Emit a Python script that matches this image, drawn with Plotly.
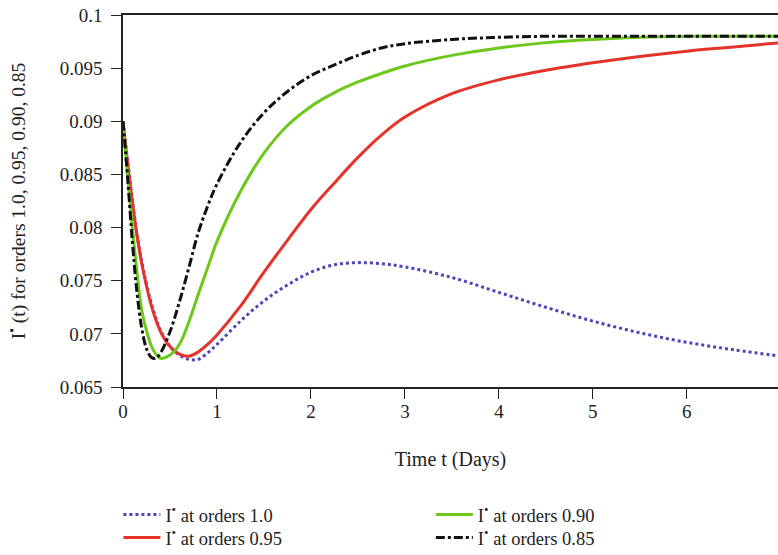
import plotly.graph_objects as go

t = [0, 0.05, 0.1, 0.15, 0.2, 0.25, 0.3, 0.35, 0.4, 0.5, 0.6, 0.7, 0.8, 0.9, 1.0,
     1.25, 1.5, 1.75, 2.0, 2.25, 2.5, 2.75, 3.0, 3.5, 4.0, 4.5, 5.0, 5.5, 6.0, 6.5, 7.0]

i_100 = [0.0900, 0.0862, 0.0826, 0.0793, 0.0768, 0.0747, 0.0729, 0.0715, 0.0703, 0.0688,
         0.0680, 0.0676, 0.0676, 0.0682, 0.0690, 0.0712, 0.0731, 0.0746, 0.0758, 0.0765,
         0.0767, 0.0766, 0.0763, 0.0753, 0.0739, 0.0725, 0.0712, 0.0701, 0.0692, 0.0685,
         0.0679]
i_095 = [0.0900, 0.0860, 0.0824, 0.0792, 0.0766, 0.0745, 0.0727, 0.0713, 0.0702, 0.0688,
         0.0681, 0.0679, 0.0683, 0.0690, 0.0699, 0.0726, 0.0758, 0.0788, 0.0817, 0.0842,
         0.0866, 0.0887, 0.0904, 0.0926, 0.0939, 0.0948, 0.0955, 0.0961, 0.0966, 0.0970,
         0.0974]
i_090 = [0.0900, 0.0848, 0.0800, 0.0757, 0.0722, 0.0703, 0.0689, 0.0681, 0.0677, 0.0680,
         0.0690, 0.0711, 0.0737, 0.0762, 0.0787, 0.0834, 0.0870, 0.0896, 0.0914, 0.0927,
         0.0937, 0.0945, 0.0952, 0.0962, 0.0969, 0.0974, 0.0977, 0.0979, 0.0980, 0.0980,
         0.0980]
i_085 = [0.0900, 0.0846, 0.0786, 0.0738, 0.0705, 0.0686, 0.0678, 0.0677, 0.0682, 0.0702,
         0.0730, 0.0762, 0.0795, 0.0820, 0.0841, 0.0880, 0.0908, 0.0928, 0.0943, 0.0953,
         0.0962, 0.0969, 0.0973, 0.0977, 0.0979, 0.0980, 0.0980, 0.0980, 0.0980, 0.0980,
         0.0980]

x_ticks = [0, 1, 2, 3, 4, 5, 6]
y_ticks = [0.065, 0.07, 0.075, 0.08, 0.085, 0.09, 0.095, 0.1]
y_labels = ["0.065", "0.07", "0.075", "0.08", "0.085", "0.09", "0.095", "0.1"]

FONT = "Liberation Serif"
TXT = "#222222"

fig = go.Figure()
fig.add_trace(go.Scatter(x=t, y=i_100, mode="lines", name="I<sup>•</sup> at orders 1.0",
                         line=dict(color="#4a46b8", width=3, dash="dot", shape="spline"),
                         legend="legend", showlegend=True))
fig.add_trace(go.Scatter(x=t, y=i_095, mode="lines", name="I<sup>•</sup> at orders 0.95",
                         line=dict(color="#e5332a", width=3, shape="spline"),
                         legend="legend2", showlegend=True))
fig.add_trace(go.Scatter(x=t, y=i_090, mode="lines", name="I<sup>•</sup> at orders 0.90",
                         line=dict(color="#6cc81a", width=3, shape="spline"),
                         legend="legend3", showlegend=True))
fig.add_trace(go.Scatter(x=t, y=i_085, mode="lines", name="I<sup>•</sup> at orders 0.85",
                         line=dict(color="#111111", width=3, dash="dashdot", shape="spline"),
                         legend="legend4", showlegend=True))


def leg(x, y):
    return dict(x=x, y=y, xanchor="left", yanchor="top", yref="container",
                orientation="v", font=dict(family=FONT, size=18.5, color=TXT),
                itemwidth=37, bgcolor="rgba(0,0,0,0)")


fig.update_layout(
    width=778, height=555,
    showlegend=True,
    margin=dict(l=123, r=0, t=15, b=168),
    paper_bgcolor="white", plot_bgcolor="white",
    font=dict(family=FONT, size=19, color=TXT),
    legend=leg(-0.007, 0.1063),
    legend2=leg(-0.007, 0.0649),
    legend3=leg(0.470, 0.1063),
    legend4=leg(0.470, 0.0649),
    xaxis=dict(range=[0, 6.97], tickvals=x_ticks, ticks="outside", ticklen=10,
               tickwidth=1.2, tickcolor="#222", showline=True, linecolor="#222",
               linewidth=1.5, mirror=True, showgrid=False, zeroline=False,
               automargin=False, ticklabelstandoff=-4,
               title=dict(text="Time t (Days)", standoff=31,
                          font=dict(family=FONT, size=20, color=TXT)),
               tickfont=dict(family=FONT, size=19, color=TXT)),
    yaxis=dict(range=[0.065, 0.1], tickvals=y_ticks, ticktext=y_labels, ticks="outside",
               ticklen=10, tickwidth=1.2, tickcolor="#222", showline=True, linecolor="#222",
               linewidth=1.5, showgrid=False, zeroline=False, automargin=False,
               ticklabelstandoff=5,
               title=dict(text="I<sup>•</sup> (t) for orders 1.0, 0.95, 0.90, 0.85",
                          standoff=29, font=dict(family=FONT, size=19.5, color=TXT)),
               tickfont=dict(family=FONT, size=19, color=TXT)),
)

fig.write_html("out.html", config={"displayModeBar": False},
               post_script="document.body.style.margin='0px';")
